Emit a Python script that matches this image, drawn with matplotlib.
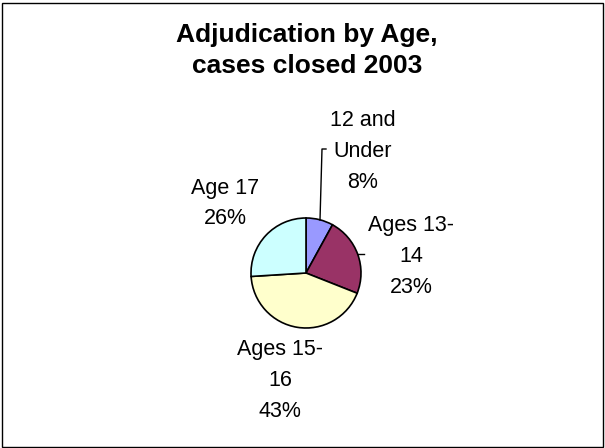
import matplotlib.pyplot as plt
from matplotlib.patches import Rectangle

# Adjudication by age group, share of cases closed in 2003
groups = [['12 and', 'Under'], ['Ages 13-', '14'], ['Ages 15-', '16'], ['Age 17']]
shares = [8, 23, 43, 26]
colors = ['#9999FF', '#993366', '#FFFFCC', '#CCFFFF']
title_lines = ['Adjudication by Age,', 'cases closed 2003']

plt.rcParams['font.family'] = ['Liberation Sans', 'DejaVu Sans']

W, H = 605, 448
fig = plt.figure(figsize=(W / 100, H / 100), dpi=100)
ax = fig.add_axes([0, 0, 1, 1])


def stacked_text(x, y_top, lines, pitch, **kw):
    """Draw lines centred on x, first baseline at y_top (pixels from top)."""
    for i, line in enumerate(lines):
        ax.text(x, H - (y_top + i * pitch), line, ha='center', va='baseline', **kw)


# the pie, clockwise from 12 o'clock
cx, cy, r = 306, H - 273, 55
ax.pie(shares, colors=colors, startangle=90, counterclock=False, center=(cx, cy), radius=r,
       wedgeprops=dict(edgecolor='black', linewidth=1.2), frame=True)
ax.set_xlim(0, W)
ax.set_ylim(0, H)
ax.set_aspect('equal')
ax.axis('off')

# chart border
ax.add_patch(Rectangle((1.5, 1.5), W - 4, H - 4, fill=False, edgecolor='black', linewidth=1))

# title
stacked_text(307, 42, title_lines, 31, fontsize=19, fontweight='bold')

# labels with value from shares
label_pos = [(363, 126), (411, 231), (280, 355), (225, 194)]
for name, val, (x, y) in zip(groups, shares, label_pos):
    stacked_text(x, y, name + [f'{val}%'], 31 if len(name) > 1 else 30, fontsize=15.5)

# leader lines
ax.plot([320, 322, 326], [H - 220, H - 149, H - 149], color='black', linewidth=1)
ax.plot([358, 364], [H - 254, H - 254], color='black', linewidth=1)

fig.savefig('out.png', dpi=100)
